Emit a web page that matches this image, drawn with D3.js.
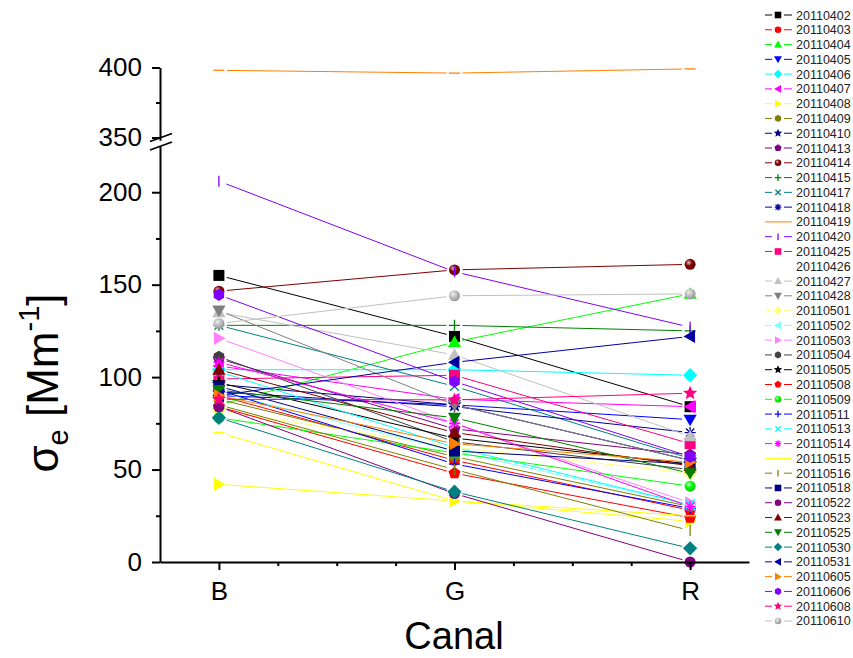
<!DOCTYPE html>
<html>
<head>
<meta charset="utf-8">
<script src="https://cdn.jsdelivr.net/npm/d3@7/dist/d3.min.js"></script>
<style>
  body { margin: 0; background: #fff; }
  svg { font-family: "Liberation Sans", Arial, sans-serif; }
</style>
</head>
<body>
<svg id="chart" width="853" height="658"></svg>
<script>
// channels on the x axis
const channels = ["B", "G", "R"];
// one series per measuring day
const dates = ["20110402","20110403","20110404","20110405","20110406","20110407","20110408","20110409","20110410","20110413",
  "20110414","20110415","20110417","20110418","20110419","20110420","20110425","20110426","20110427","20110428",
  "20110501","20110502","20110503","20110504","20110505","20110508","20110509","20110511","20110513","20110514",
  "20110515","20110516","20110518","20110522","20110523","20110525","20110530","20110531","20110605","20110606",
  "20110608","20110610"];
// sigma_e values (Mm^-1) per channel
const valB = [155, 90, 85, 90, 104, 106, 42, 88, 96, 110, 146.5, 128, 128, 92, 398, 206, 99, 96, 135, 136,
  82, 92, 121, 111, 97, 84, 78, 93, 103, 108, 70, 85, 95, 84, 104, 93, 78, 90, 90, 144.5, 88, 129];
const valG = [122, 55, 119, 85, 104, 88, 33, 57, 85, 72, 158, 128, 95, 84, 396, 157, 101, 66, 112, 85,
  62, 60, 75, 65, 67, 48, 59, 53, 62, 75, 33, 50, 60, 37, 70, 78, 38, 108, 64, 97.6, 87.7, 144];
const valR = [84, 28, 145, 77, 101, 84, 22, 30, 55, 58, 161, 125, 56, 70, 399, 127, 64, 52, 68, 55,
  48, 31, 32, 50, 53, 24, 41, 29, 31, 30, 25, 17, 53, 0, 52, 48, 7.4, 122, 54, 57, 91.3, 145];

// Origin-like default colour and symbol cycles
const palette = ["#000000","#FF0000","#00FF00","#0000FF","#00FFFF","#FF00FF","#FFFF00","#808000","#000080","#800080",
  "#800000","#008000","#008080","#0000A0","#FF8000","#8000FF","#FF0080","#FFFFFF","#C0C0C0","#808080",
  "#FFFF80","#80FFFF","#FF80FF","#404040"];
const symbolCycle = ["square","circle","up","down","diamond","left","right","hexagon","star","pentagon",
  "sphere","plus","x","asterisk","dash","bar"];
const colorOf = i => i === 41 ? "#C0C0C0" : palette[i % palette.length];
const symbolOf = i => i === 41 ? "sphere" : symbolCycle[i % symbolCycle.length];

const svg = d3.select("#chart");

const x = d3.scaleLinear().domain([0.75, 3.25]).range([160, 749]);
const yLow = d3.scaleLinear().domain([0, 225]).range([562, 146]);
const yHigh = d3.scaleLinear().domain([348, 400]).range([140.3, 67.5]);
const yOf = v => v > 300 ? yHigh(v) : yLow(v);

function polygon(n, r, rot) {
  let p = [];
  for (let k = 0; k < n; k++) {
    let a = rot + k * 2 * Math.PI / n;
    p.push([r * Math.cos(a), r * Math.sin(a)]);
  }
  return "M" + p.map(d => d.join(",")).join("L") + "Z";
}

function star(r) {
  let p = [];
  for (let k = 0; k < 10; k++) {
    let a = -Math.PI / 2 + k * Math.PI / 5;
    let rr = k % 2 ? r * 0.45 : r;
    p.push([rr * Math.cos(a), rr * Math.sin(a)]);
  }
  return "M" + p.map(d => d.join(",")).join("L") + "Z";
}

function symPath(type, r) {
  switch (type) {
    case "square": return `M${-r},${-r}h${2*r}v${2*r}h${-2*r}Z`;
    case "circle":
    case "sphere": return `M${r},0A${r},${r} 0 1,1 ${-r},0A${r},${r} 0 1,1 ${r},0Z`;
    case "up": return `M0,${-r*1.2}L${r*1.2},${r*0.9}L${-r*1.2},${r*0.9}Z`;
    case "down": return `M0,${r*1.2}L${r*1.2},${-r*0.9}L${-r*1.2},${-r*0.9}Z`;
    case "left": return `M${-r*1.2},0L${r*0.9},${-r*1.2}L${r*0.9},${r*1.2}Z`;
    case "right": return `M${r*1.2},0L${-r*0.9},${-r*1.2}L${-r*0.9},${r*1.2}Z`;
    case "diamond": return polygon(4, r * 1.3, -Math.PI / 2);
    case "hexagon": return polygon(6, r * 1.1, -Math.PI / 2);
    case "pentagon": return polygon(5, r * 1.15, -Math.PI / 2);
    case "star": return star(r * 1.35);
    case "plus": return `M${-r},0H${r}M0,${-r}V${r}`;
    case "x": return `M${-r*.8},${-r*.8}L${r*.8},${r*.8}M${-r*.8},${r*.8}L${r*.8},${-r*.8}`;
    case "asterisk": return `M${-r},0H${r}M0,${-r}V${r}M${-r*.75},${-r*.75}L${r*.75},${r*.75}M${-r*.75},${r*.75}L${r*.75},${-r*.75}`;
    case "dash": return `M${-r},0H${r}`;
    case "bar": return `M0,${-r}V${r}`;
  }
}
const stroked = new Set(["plus", "x", "asterisk", "dash", "bar"]);

// gradients for the shaded spheres
const defs = svg.append("defs");
dates.forEach((d, i) => {
  if (symbolOf(i) !== "sphere") return;
  let c = colorOf(i);
  let g = defs.append("radialGradient").attr("id", "sph" + i)
    .attr("cx", 0.38).attr("cy", 0.35).attr("r", 0.7);
  g.append("stop").attr("offset", "0%").attr("stop-color", d3.interpolateRgb(c, "#fff")(0.75));
  g.append("stop").attr("offset", "45%").attr("stop-color", c);
  g.append("stop").attr("offset", "100%").attr("stop-color", d3.interpolateRgb(c, "#000")(0.25));
});

function drawSymbol(sel, i, r) {
  let type = symbolOf(i), c = colorOf(i);
  let p = sel.append("path").attr("d", symPath(type, r));
  if (stroked.has(type)) p.attr("fill", "none").attr("stroke", c).attr("stroke-width", 1.3);
  else p.attr("fill", type === "sphere" ? `url(#sph${i})` : c);
  return p;
}

// series
const gap = 8;
const plotG = svg.append("g").attr("class", "series");
dates.forEach((d, i) => {
  let vals = [valB[i], valG[i], valR[i]];
  let pts = vals.map((v, j) => [x(j + 1), yOf(v)]);
  let g = plotG.append("g");
  let path = "";
  for (let k = 0; k < pts.length - 1; k++) {
    let [x0, y0] = pts[k], [x1, y1] = pts[k + 1];
    let L = Math.hypot(x1 - x0, y1 - y0);
    if (L <= 2 * gap) continue;
    let ux = (x1 - x0) / L, uy = (y1 - y0) / L;
    path += `M${x0 + ux*gap},${y0 + uy*gap}L${x1 - ux*gap},${y1 - uy*gap}`;
  }
  g.append("path").attr("d", path).attr("fill", "none")
    .attr("stroke", colorOf(i)).attr("stroke-width", 1);
  pts.forEach(p => {
    drawSymbol(g.append("g").attr("transform", `translate(${p[0]},${p[1]})`), i, 5.5);
  });
});

// axes
function styleAxis(g, fs) {
  g.selectAll(".domain, .tick line").attr("stroke", "#000").attr("stroke-width", 2);
  g.selectAll(".tick text").attr("fill", "#000").style("font-size", fs + "px");
}
const yLowAxis = svg.append("g").attr("transform", "translate(160,0)")
  .call(d3.axisLeft(yLow).tickValues([0, 50, 100, 150, 200]).tickSize(8).tickSizeOuter(0).tickPadding(10));
styleAxis(yLowAxis, 26);
const yLowMinor = svg.append("g").attr("transform", "translate(160,0)")
  .call(d3.axisLeft(yLow).tickValues([25, 75, 125, 175]).tickSize(4).tickFormat(""));
yLowMinor.select(".domain").remove();
styleAxis(yLowMinor, 26);

const yHighAxis = svg.append("g").attr("transform", "translate(160,0)")
  .call(d3.axisLeft(yHigh).tickValues([350, 400]).tickSize(8).tickSizeOuter(0).tickPadding(10));
styleAxis(yHighAxis, 26);
const yHighMinor = svg.append("g").attr("transform", "translate(160,0)")
  .call(d3.axisLeft(yHigh).tickValues([375]).tickSize(4).tickFormat(""));
yHighMinor.select(".domain").remove();
styleAxis(yHighMinor, 26);

// break marks
svg.append("g").selectAll("line").data([0, 8.5]).join("line")
  .attr("x1", 150).attr("y1", d => 141.5 + d).attr("x2", 172).attr("y2", d => 133.5 + d)
  .attr("stroke", "#000").attr("stroke-width", 1.8);

const xAxis = svg.append("g").attr("transform", "translate(0,562)")
  .call(d3.axisBottom(x).tickValues([1, 2, 3]).tickFormat(d => channels[d - 1])
    .tickSize(8).tickSizeOuter(0).tickPadding(12));
styleAxis(xAxis, 26);
const xMinor = svg.append("g").attr("transform", "translate(0,562)")
  .call(d3.axisBottom(x).tickValues([1.25, 1.5, 1.75, 2.25, 2.5, 2.75]).tickSize(4).tickFormat(""));
xMinor.select(".domain").remove();
styleAxis(xMinor, 26);

// axis titles
svg.append("text").attr("x", 454).attr("y", 649).attr("text-anchor", "middle")
  .style("font-size", "38px").attr("fill", "#000").text("Canal");

const yt = svg.append("text").attr("transform", "translate(58,383) rotate(-90)")
  .attr("text-anchor", "middle").style("font-size", "44px").attr("fill", "#000");
yt.append("tspan").text("σ");
yt.append("tspan").attr("dy", 10).style("font-size", "29px").text("e");
yt.append("tspan").attr("dy", -10).text(" [Mm");
yt.append("tspan").attr("dy", -19).style("font-size", "29px").text("-1");
yt.append("tspan").attr("dy", 19).text("]");

// legend
const legend = svg.append("g").attr("class", "legend");
dates.forEach((d, i) => {
  let y = 15 + i * 14.78;
  let g = legend.append("g").attr("transform", `translate(0,${y})`);
  let c = colorOf(i), type = symbolOf(i);
  let lp = type === "dash" ? "M765,0H792" : "M765,0H772M784,0H792";
  g.append("path").attr("d", lp).attr("stroke", c).attr("stroke-width", 1);
  if (type !== "dash") drawSymbol(g.append("g").attr("transform", "translate(778,0)"), i, 3.3);
  g.append("text").attr("x", 796).attr("y", 0).attr("dy", "0.36em")
    .style("font-size", "12.5px").attr("fill", "#222").text(d);
});
</script>
</body>
</html>
